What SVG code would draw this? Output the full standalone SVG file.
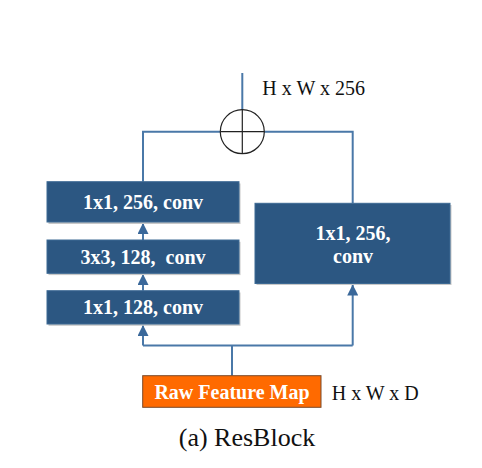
<svg xmlns="http://www.w3.org/2000/svg" width="482" height="468" viewBox="0 0 482 468">
<style>
.box{fill:#2C5782;stroke:#3D6A94;stroke-width:1}
.shadow{fill:#c8c8c8}
.lbl{font-family:"Liberation Serif",serif;font-weight:bold;font-size:20px;fill:#fff;text-anchor:middle}
.dim{font-family:"Liberation Serif",serif;font-size:20px;fill:#111}
.conn{fill:none;stroke:#4A78A8;stroke-width:2}
</style>
<defs>
<marker id="ah" markerUnits="userSpaceOnUse" markerWidth="12" markerHeight="11" refX="11" refY="5.5" orient="auto">
<path d="M0,0 L11,5.5 L0,11 Z" fill="#3A689A"/>
</marker>
</defs>
<rect width="482" height="468" fill="#fff"/>
<g id="connectors">
<path class="conn" d="M242.3,73 V109.7"/>
<path class="conn" d="M220.3,131.7 H143 V181.7"/>
<path class="conn" d="M264.3,131.7 H352.7 V203.3"/>
<path class="conn" d="M143,240 V223" marker-end="url(#ah)"/>
<path class="conn" d="M143,290.7 V274" marker-end="url(#ah)"/>
<path class="conn" d="M232,375.7 V345.5"/>
<path class="conn" d="M143,345.5 H352.7"/>
<path class="conn" d="M143,345.5 V325" marker-end="url(#ah)"/>
<path class="conn" d="M352.7,345.5 V284.5" marker-end="url(#ah)"/>
</g>
<g id="sum">
<circle cx="242.3" cy="131.7" r="22" fill="none" stroke="#222" stroke-width="1.2"/>
<path d="M242.3,109.7 V153.7 M220.3,131.7 H264.3" stroke="#222" stroke-width="1.2"/>
</g>
<g id="out-dim"><text class="dim" x="262.3" y="95">H x W x 256</text></g>
<g id="conv1">
<rect class="shadow" x="48.5" y="183.5" width="192" height="40.5"/>
<rect class="box" x="47" y="181.7" width="192" height="40.3"/>
<text class="lbl" x="143" y="209">1x1, 256, conv</text>
</g>
<g id="conv2">
<rect class="shadow" x="48.5" y="241.8" width="192" height="33.3"/>
<rect class="box" x="47" y="240" width="192" height="33.3"/>
<text class="lbl" x="143" y="264" xml:space="preserve">3x3, 128,  conv</text>
</g>
<g id="conv3">
<rect class="shadow" x="48.5" y="292.5" width="192" height="33.3"/>
<rect class="box" x="47" y="290.7" width="192" height="33.3"/>
<text class="lbl" x="143" y="314">1x1, 128, conv</text>
</g>
<g id="conv-short">
<rect class="shadow" x="256.5" y="205" width="195" height="80"/>
<rect class="box" x="255" y="203.3" width="195" height="80.2"/>
<text class="lbl" x="353" y="240">1x1, 256,</text>
<text class="lbl" x="353" y="263">conv</text>
</g>
<g id="raw">
<rect x="142.7" y="375.7" width="178.3" height="31.6" fill="#FF6A00" stroke="#7a4a2a" stroke-width="1"/>
<text class="lbl" x="232" y="398.5">Raw Feature Map</text>
</g>
<g id="in-dim"><text class="dim" x="331.7" y="400">H x W x D</text></g>
<g id="caption"><text x="247" y="445.7" font-family="Liberation Serif,serif" font-size="26" fill="#111" text-anchor="middle">(a) ResBlock</text></g>
</svg>
